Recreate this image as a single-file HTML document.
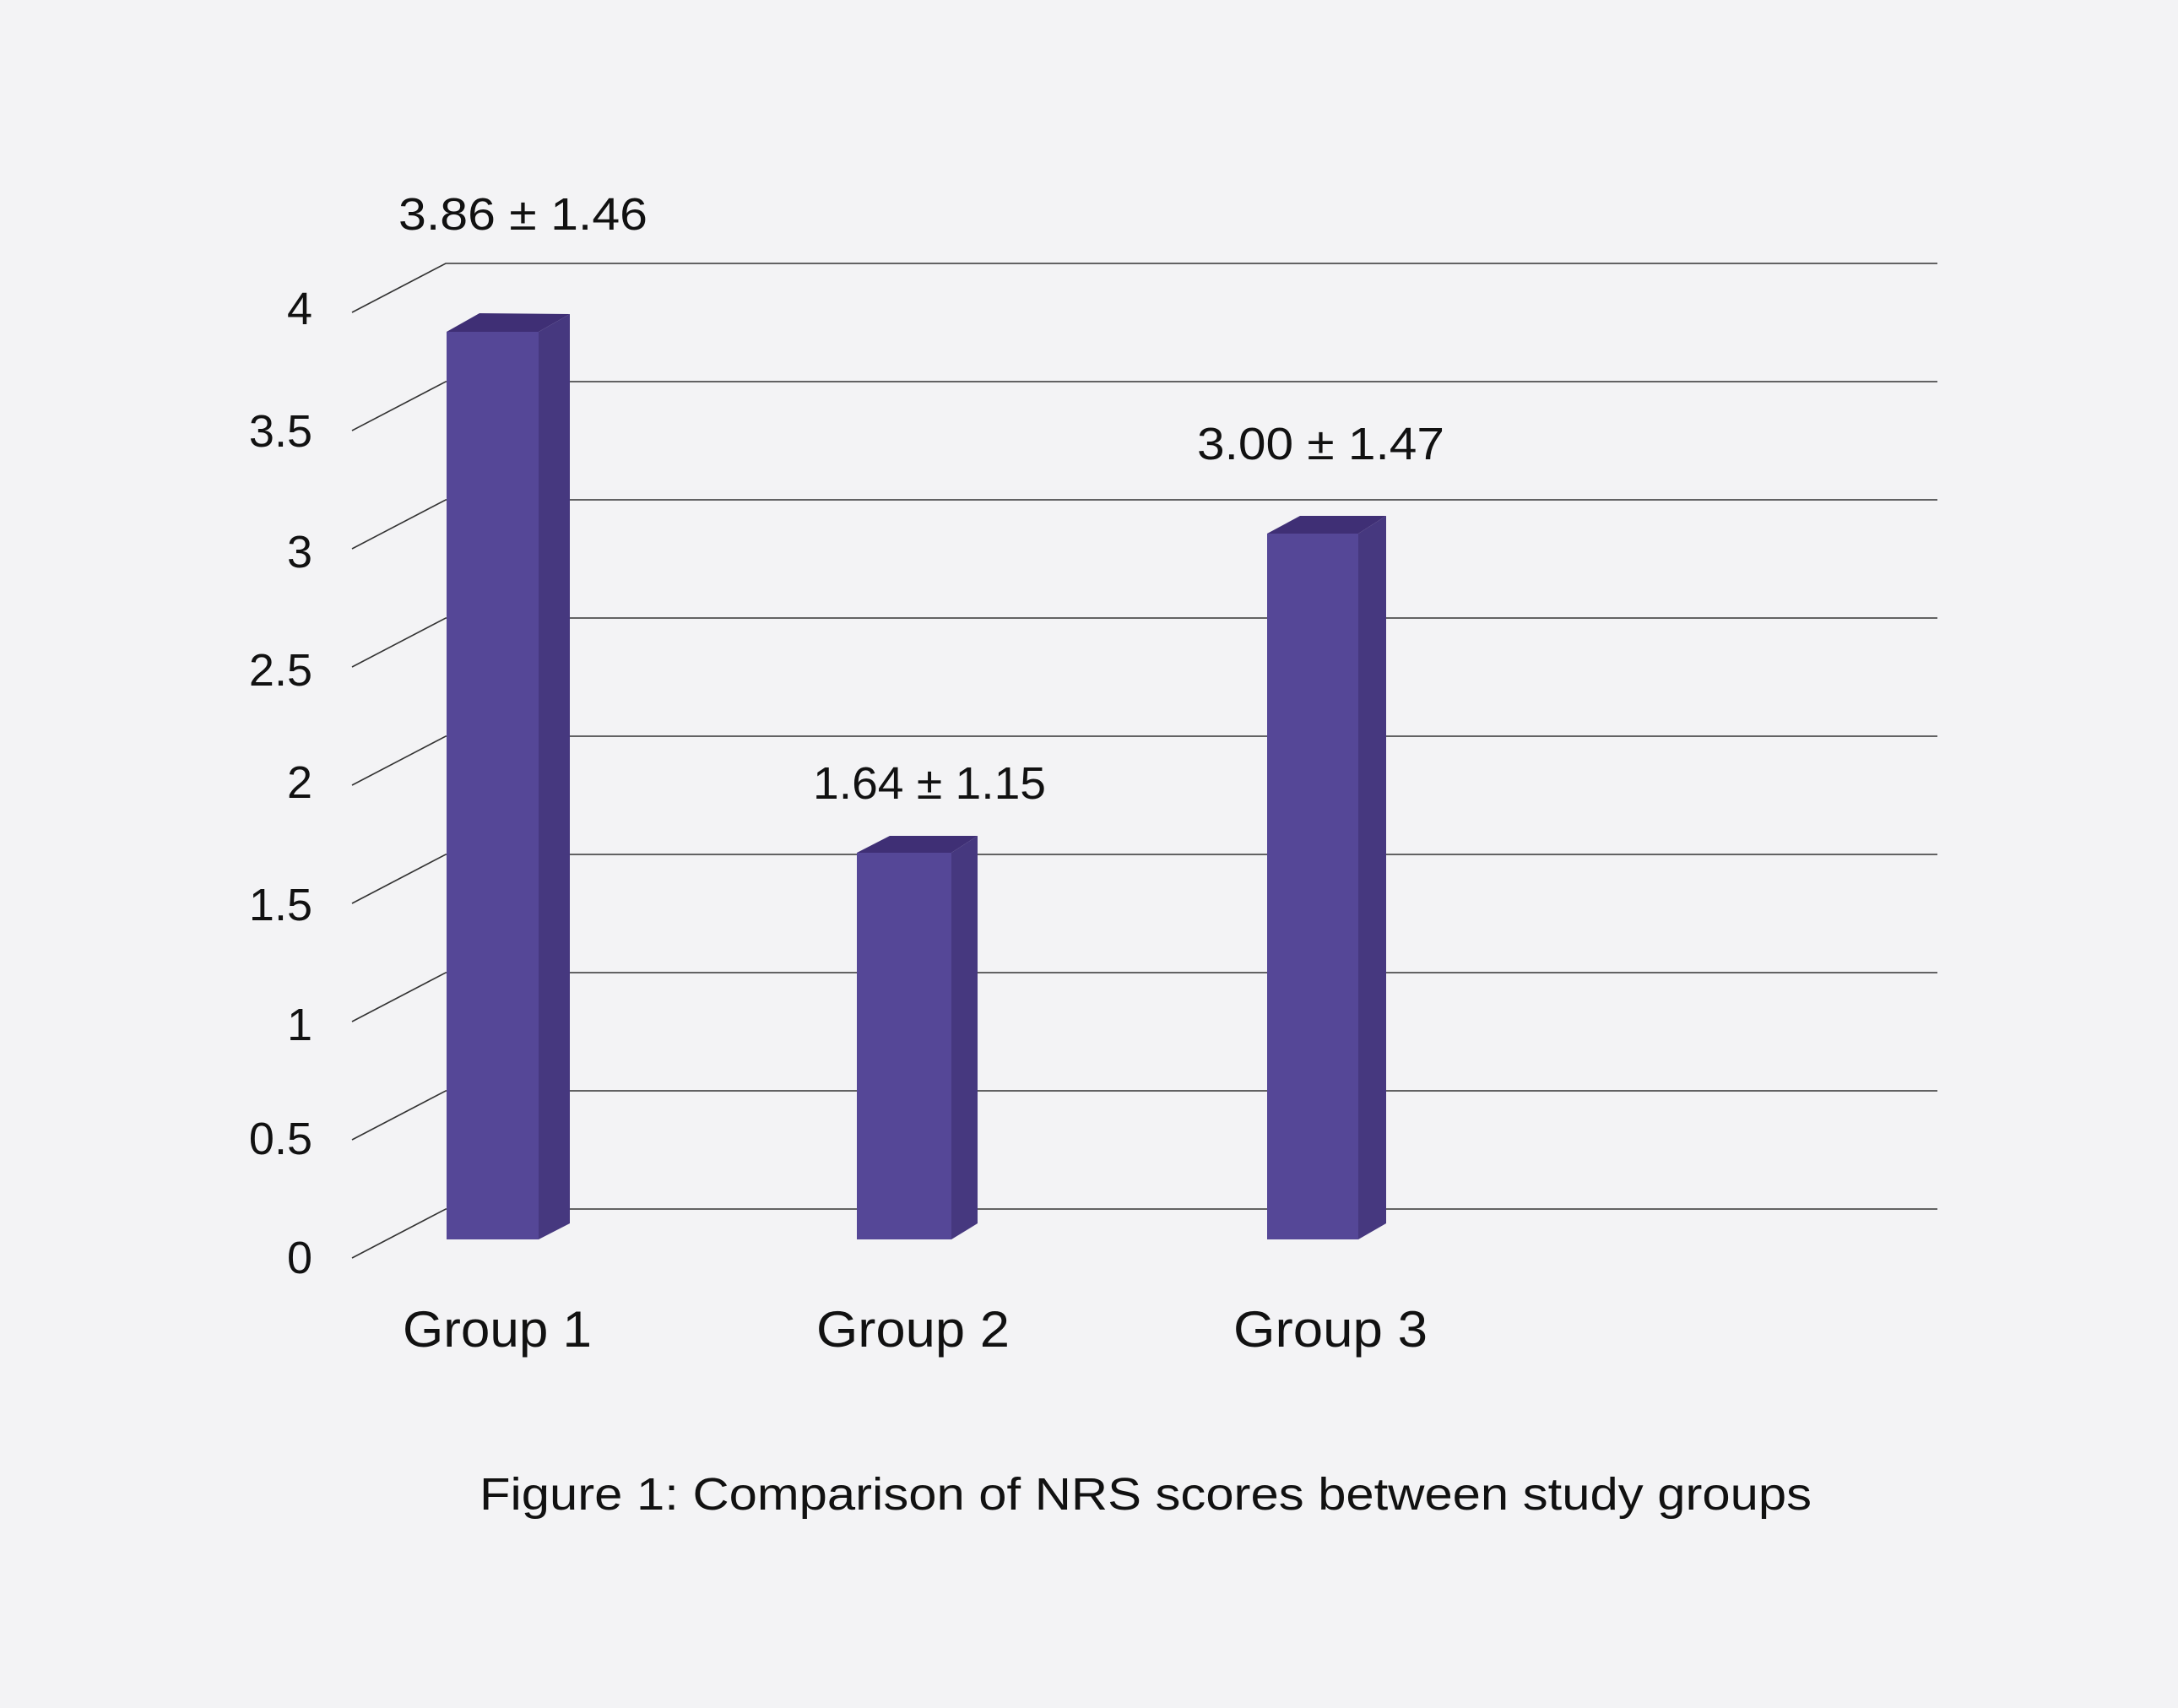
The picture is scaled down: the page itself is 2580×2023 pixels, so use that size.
<!DOCTYPE html>
<html><head><meta charset="utf-8"><style>
html,body{margin:0;padding:0;background:#f3f3f5;}
svg{display:block;}
text{font-family:"Liberation Sans",sans-serif;fill:#111;}
</style></head><body>
<svg width="2580" height="2023" viewBox="0 0 2580 2023" xmlns="http://www.w3.org/2000/svg">
<rect width="2580" height="2023" fill="#f3f3f5"/>
<g stroke="#333" stroke-width="1.6" fill="none">
<polyline points="417,370 528,312 2295,312"/>
<polyline points="417,510 528,452 2295,452"/>
<polyline points="417,650 528,592 2295,592"/>
<polyline points="417,790 528,732 2295,732"/>
<polyline points="417,930 528,872 2295,872"/>
<polyline points="417,1070 528,1012 2295,1012"/>
<polyline points="417,1210 528,1152 2295,1152"/>
<polyline points="417,1350 528,1292 2295,1292"/>
<polyline points="417,1490 528,1432 2295,1432"/>
</g>
<g>
<!-- Group 1 -->
<polygon points="529,393 568,371 675,372 638,393" fill="#3f2f75"/>
<polygon points="638,393 675,372 675,1449 638,1468" fill="#46387f"/>
<rect x="529" y="393" width="109" height="1075" fill="#554797"/>
<!-- Group 2 -->
<polygon points="1015,1010 1054,990 1158,990 1127,1010" fill="#3f2f75"/>
<polygon points="1127,1010 1158,990 1158,1449 1127,1468" fill="#46387f"/>
<rect x="1015" y="1010" width="112" height="458" fill="#554797"/>
<!-- Group 3 -->
<polygon points="1501,632 1540,611 1642,611 1609,632" fill="#3f2f75"/>
<polygon points="1609,632 1642,611 1642,1449 1609,1468" fill="#46387f"/>
<rect x="1501" y="632" width="108" height="836" fill="#554797"/>
</g>
<g font-size="54" text-anchor="end">
<text x="370" y="384">4</text>
<text x="370" y="529">3.5</text>
<text x="370" y="672">3</text>
<text x="370" y="812">2.5</text>
<text x="370" y="945">2</text>
<text x="370" y="1090">1.5</text>
<text x="370" y="1232">1</text>
<text x="370" y="1367">0.5</text>
<text x="370" y="1508">0</text>
</g>
<g font-size="54">
<text x="472" y="272" textLength="295" lengthAdjust="spacingAndGlyphs">3.86 ± 1.46</text>
<text x="963" y="946" textLength="276" lengthAdjust="spacingAndGlyphs">1.64 ± 1.15</text>
<text x="1418" y="544" textLength="293" lengthAdjust="spacingAndGlyphs">3.00 ± 1.47</text>
</g>
<g font-size="60">
<text x="477" y="1595" textLength="224" lengthAdjust="spacingAndGlyphs">Group 1</text>
<text x="967" y="1595" textLength="229" lengthAdjust="spacingAndGlyphs">Group 2</text>
<text x="1461" y="1595" textLength="230" lengthAdjust="spacingAndGlyphs">Group 3</text>
</g>
<text x="568" y="1788" font-size="54" textLength="1578" lengthAdjust="spacingAndGlyphs">Figure 1: Comparison of NRS scores between study groups</text>
</svg>
</body></html>
